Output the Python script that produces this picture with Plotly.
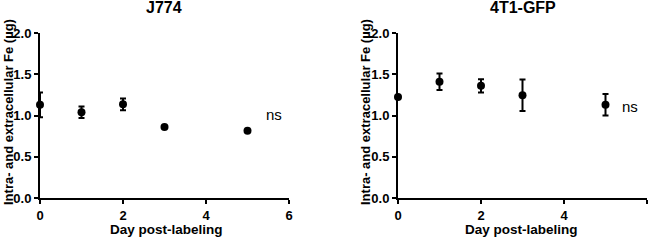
import plotly.graph_objects as go

days = [0, 1, 2, 3, 5]
j774_mean = [1.13, 1.04, 1.135, 0.86, 0.815]
j774_err = [0.15, 0.07, 0.07, 0.0, 0.0]
t41_mean = [1.225, 1.41, 1.36, 1.245, 1.13]
t41_err = [0.0, 0.10, 0.08, 0.19, 0.13]
titles = ["J774", "4T1-GFP"]
x_title = "Day post-labeling"
y_title = "Intra- and extracellular Fe (µg)"
ns_label = "ns"

FONT = "Liberation Sans, Arial, sans-serif"
W, H = 650, 240

fig = go.Figure()
series = [(j774_mean, j774_err), (t41_mean, t41_err)]
for i, (m, e) in enumerate(series):
    suffix = "" if i == 0 else "2"
    fig.add_trace(go.Scatter(
        x=days, y=m, mode="markers",
        marker=dict(color="black", size=8),
        error_y=dict(type="data", array=e, visible=True, color="black",
                     thickness=2, width=3),
        xaxis="x" + suffix, yaxis="y" + suffix,
        cliponaxis=False, showlegend=False, hoverinfo="skip",
    ))

axis_common = dict(
    showline=True, linecolor="black", linewidth=2,
    ticks="outside", ticklen=4, tickwidth=2, tickcolor="black",
    showgrid=False, zeroline=False, automargin=False,
    tickfont=dict(family=FONT, size=13, color="black", weight="bold"),
)
xdoms = [[40 / W, 289 / W], [398 / W, 647 / W]]
ydom = [(H - 198) / H, (H - 33) / H]

bold = dict(family=FONT, color="black", weight="bold")
layout = dict(
    width=W, height=H,
    margin=dict(l=0, r=0, t=0, b=0),
    plot_bgcolor="white", paper_bgcolor="white",
    annotations=[],
)
ycenters = [8, 365]
xcenters = [166, 521]
tcenters = [164, 523]
for i in range(2):
    suffix = "" if i == 0 else "2"
    layout["xaxis" + suffix] = dict(
        axis_common, domain=xdoms[i], range=[0, 6], tickvals=[0, 2, 4, 6],
        anchor="y" + suffix,
    )
    layout["yaxis" + suffix] = dict(
        axis_common, domain=ydom, range=[0, 2], tickvals=[0, 0.5, 1, 1.5, 2],
        tickformat=".1f", anchor="x" + suffix,
    )
    layout["annotations"] += [
        dict(text=titles[i], x=tcenters[i] / W, y=1 - 8 / H, xref="paper", yref="paper",
             xanchor="center", yanchor="middle", showarrow=False,
             font=dict(bold, size=16)),
        dict(text=x_title, x=xcenters[i] / W, y=1 - 229.5 / H, xref="paper", yref="paper",
             xanchor="center", yanchor="middle", showarrow=False,
             font=dict(bold, size=13.5)),
        dict(text=y_title, x=ycenters[i] / W, y=1 - 112 / H, xref="paper", yref="paper",
             xanchor="center", yanchor="middle", showarrow=False, textangle=-90,
             font=dict(bold, size=13)),
    ]

layout["annotations"].append(dict(text=ns_label, x=5.65, y=1.01, xref="x", yref="y",
                                  showarrow=False, font=dict(family=FONT, size=15, color="black")))
layout["annotations"].append(dict(text=ns_label, x=5.6, y=1.11, xref="x2", yref="y2",
                                  showarrow=False, font=dict(family=FONT, size=15, color="black")))

fig.update_layout(**layout)
fig.write_html("out.html", config={"displayModeBar": False},
               post_script="document.body.style.margin='0px';")
